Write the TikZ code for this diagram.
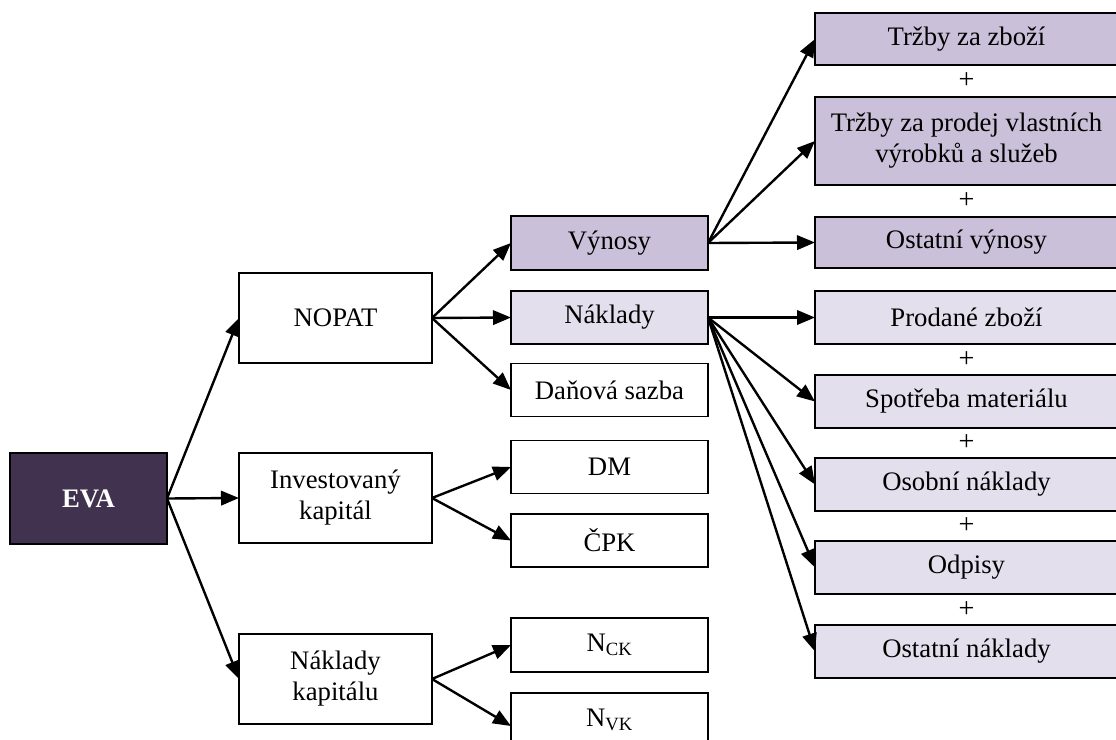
\documentclass[tikz,border=0pt]{standalone}
\usepackage{fontspec}
\setmainfont{Liberation Serif}
\usepackage{xcolor}
\usetikzlibrary{arrows.meta}

\definecolor{evadark}{HTML}{41334F}
\definecolor{vynfill}{HTML}{CBC0D9}
\definecolor{nakfill}{HTML}{E4DFEC}

\begin{document}
\begin{tikzpicture}[x=0.025cm, y=-0.025cm,
        box/.style={draw, line width=1.2pt, inner sep=0pt, outer sep=0pt,
            align=center, font=\fontsize{19}{22}\selectfont},
        wide/.style={box, minimum width=193*0.025cm, minimum height=90*0.025cm},
        mid/.style={box, minimum width=197*0.025cm, minimum height=53*0.025cm},
        right/.style={box, minimum width=303*0.025cm, minimum height=53*0.025cm},
        plus/.style={inner sep=0pt, font=\fontsize{20}{20}\selectfont},
        arr/.style={-{Triangle[length=0.45cm, width=0.36cm]}, line width=1.7pt}]
        \useasboundingbox (0,0) rectangle (1116,740);

        % --- Column 1: EVA ---
        \node[box, fill=evadark, text=white, font=\fontsize{19}{22}\selectfont\bfseries,
            minimum width=157*0.025cm, minimum height=91*0.025cm] (eva) at (88.5,498.5) {EVA};

        % --- Column 2 ---
        \node[wide] (nopat) at (335.5,318) {NOPAT};
        \node[wide] (invest) at (335.5,498) {Investovaný\\kapitál};
        \node[wide] (nkap) at (335.5,679) {Náklady\\kapitálu};

        % --- Column 3 ---
        \node[mid, fill=vynfill, minimum height=54*0.025cm] (vynosy) at (609.5,243) {Výnosy};
        \node[mid, fill=nakfill] (naklady) at (609.5,317.5) {Náklady};
        \node[mid] (dan) at (609.5,390) {Daňová sazba};
        \node[mid] (dm) at (609.5,467) {DM};
        \node[mid] (cpk) at (609.5,540.5) {ČPK};
        \node[mid, minimum height=54*0.025cm] (nck) at (609.5,645) {N\textsubscript{CK}};
        \node[mid, minimum height=54*0.025cm] (nvk) at (609.5,720) {N\textsubscript{VK}};

        % --- Column 4: revenues ---
        \node[right, fill=vynfill, minimum height=52*0.025cm] (tz) at (966.5,39) {Tržby za zboží};
        \node[right, fill=vynfill, minimum height=88*0.025cm] (tp) at (966.5,141) {Tržby za prodej vlastních\\výrobků a služeb};
        \node[right, fill=vynfill, minimum height=51*0.025cm] (ov) at (966.5,242.5) {Ostatní výnosy};

        % --- Column 4: costs ---
        \foreach \name/\y/\txt in {pz/317.5/Prodané zboží, sm/401.5/Spotřeba materiálu,
                on/484.5/Osobní náklady, od/567.5/Odpisy, onk/651.5/Ostatní náklady}
            \node[right, fill=nakfill] (\name) at (966.5,\y) {\txt};

        % plus signs between the boxes
        \foreach \name/\y in {p1/81, p2/201, p3/359.5, p4/443, p5/526, p6/609.5}
            \node[plus] (\name) at (966.5,\y) {+};

        % --- Arrows ---
        \foreach \t in {nopat, invest, nkap} \draw[arr] (eva.east) -- (\t.west);
        \foreach \t in {vynosy, naklady, dan} \draw[arr] (nopat.east) -- (\t.west);
        \foreach \t in {dm, cpk} \draw[arr] (invest.east) -- (\t.west);
        \draw[arr] (nkap.east) -- (nck.west);
        \draw[arr] (nkap.east) -- ([yshift=-0.15cm]nvk.west);
        \foreach \t in {tz, tp, ov} \draw[arr] (vynosy.east) -- (\t.west);
        \foreach \t in {pz, sm, on, od, onk} \draw[arr] (naklady.east) -- (\t.west);
\end{tikzpicture}
\end{document}
